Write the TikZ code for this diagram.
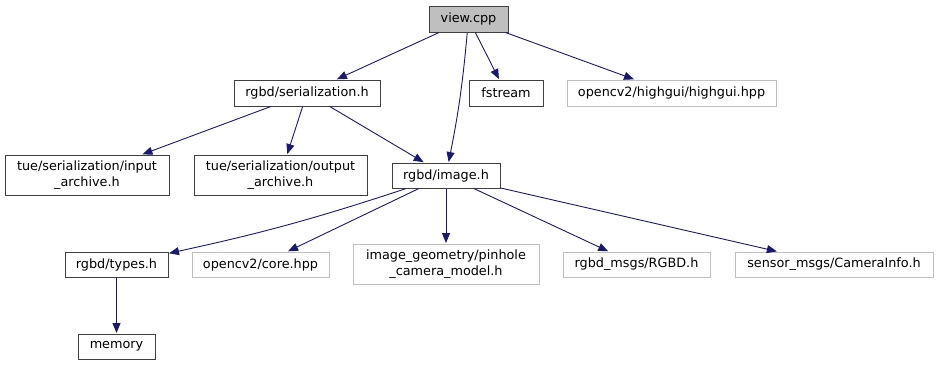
\documentclass[tikz,border=0pt]{standalone}
\usepackage{fontspec}
\setmainfont{DejaVu Sans}
\usetikzlibrary{arrows.meta}
\definecolor{edgec}{HTML}{191970}
\definecolor{darkb}{HTML}{404040}
\definecolor{lightb}{HTML}{BFBFBF}
\tikzset{
  x=1pt,y=1pt,
  filebox/.style={draw=darkb,line width=1pt,inner sep=0pt,align=center,font=\fontsize{12.8}{15.5}\selectfont},
  extbox/.style={draw=lightb,line width=1pt,inner sep=0pt,align=center,font=\fontsize{12.8}{15.5}\selectfont},
  mainbox/.style={filebox,fill=lightb},
  dep/.style={draw=edgec,line width=0.9pt,-{Triangle[length=10pt,width=8pt]},shorten >=0.5pt}
}
\begin{document}
\begin{tikzpicture}
\useasboundingbox (0,0) rectangle (939,-365);
\node[mainbox,minimum width=79,minimum height=26] (view) at (468.5,-19) {view.cpp};
\node[filebox,minimum width=146,minimum height=26] (ser) at (307,-93) {rgbd/serialization.h};
\node[filebox,minimum width=74,minimum height=26] (fs) at (506,-93) {fstream};
\node[extbox,minimum width=209,minimum height=26] (hg) at (671.5,-93) {opencv2/highgui/highgui.hpp};
\node[filebox,minimum width=164,minimum height=40] (in) at (87,-175) {tue/serialization/input\\\_archive.h};
\node[filebox,minimum width=173,minimum height=40] (out) at (280.5,-175) {tue/serialization/output\\\_archive.h};
\node[filebox,minimum width=108,minimum height=25] (img) at (446,-175.5) {rgbd/image.h};
\node[filebox,minimum width=103,minimum height=25] (types) at (116.5,-264.5) {rgbd/types.h};
\node[extbox,minimum width=137,minimum height=25] (core) at (260.5,-264.5) {opencv2/core.hpp};
\node[extbox,minimum width=186,minimum height=40] (pin) at (446,-264) {image\_geometry/pinhole\\\_camera\_model.h};
\node[extbox,minimum width=147,minimum height=25] (rgbd) at (636.5,-264.5) {rgbd\_msgs/RGBD.h};
\node[extbox,minimum width=198,minimum height=25] (cam) at (834,-264.5) {sensor\_msgs/CameraInfo.h};
\node[filebox,minimum width=77,minimum height=25] (mem) at (116.5,-346.5) {memory};

\draw[dep] (view) -- (ser);
\draw[dep] (view) to[bend left=3] (img);
\draw[dep] (view) -- (fs);
\draw[dep] (view) -- (hg);
\draw[dep] (ser) -- (in);
\draw[dep] (ser) -- (out);
\draw[dep] (ser) -- (img);
\draw[dep] (img) to[bend left=3] (types);
\draw[dep] (img) -- (core);
\draw[dep] (img) -- (pin);
\draw[dep] (img) -- (rgbd);
\draw[dep] (img) -- (cam);
\draw[dep] (types) -- (mem);
\end{tikzpicture}
\end{document}
